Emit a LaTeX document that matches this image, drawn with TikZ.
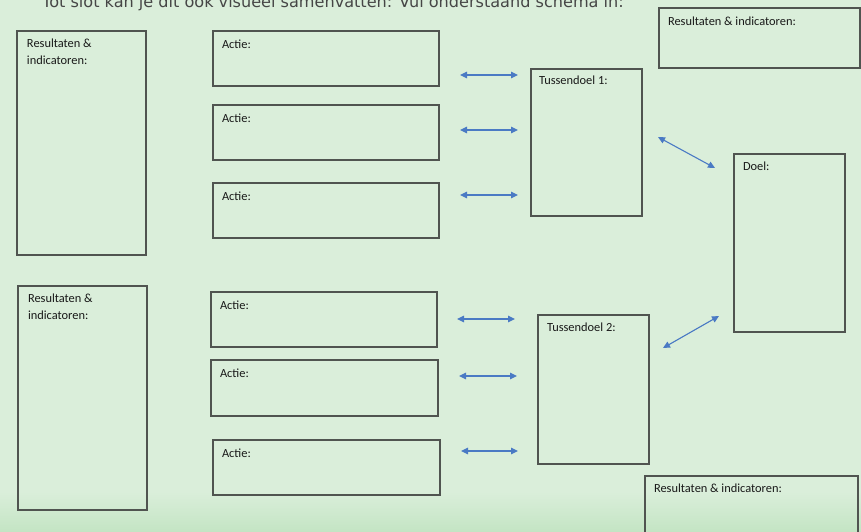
\documentclass[tikz,border=0pt]{standalone}
\usepackage{fontspec}
\setmainfont{Carlito}
\newfontfamily\titlefont{DejaVu Sans}
\usetikzlibrary{arrows.meta}
\definecolor{bggreen}{RGB}{218,238,218}
\definecolor{bgdark}{RGB}{196,229,196}
\definecolor{boxline}{RGB}{80,84,80}
\definecolor{arrblue}{RGB}{74,122,196}
\definecolor{titlegray}{RGB}{70,70,70}
\tikzset{
  box/.style={draw=boxline, line width=1.1pt, inner sep=0pt, outer sep=0pt, anchor=north west},
  txt/.style={inner sep=0pt, outer sep=0pt, anchor=base west, font=\fontsize{12.4}{17}\selectfont, text=black!90},
  arr/.style={draw=arrblue, line width=1.1pt, {Triangle[length=7pt,width=6.5pt]}-{Triangle[length=7pt,width=6.5pt]}}
}
\begin{document}
\begin{tikzpicture}[x=1pt,y=-1pt]
\useasboundingbox (0,0) rectangle (861,531);
\clip (0,0) rectangle (861,531);
% background
\fill[bggreen] (0,0) rectangle (861,531);
\shade[top color=bggreen, bottom color=bgdark] (0,492) rectangle (861,531);
% title
\node[inner sep=0pt, anchor=base west, font=\titlefont\fontsize{16.1}{19}\selectfont, text=titlegray] (title) at (42,7.5) {Tot slot kan je dit ook visueel samenvatten: Vul onderstaand schema in:};
% left result boxes
\node[box, minimum width=129pt, minimum height=224pt] (R1) at (17,31) {};
\node[txt, align=left, anchor=north west] (R1t) at ([shift={(10,8.3)}]R1.north west) {Resultaten \&\\indicatoren:};
\node[box, minimum width=129pt, minimum height=224pt] (R2) at (18,286) {};
\node[txt, align=left, anchor=north west] (R2t) at ([shift={(10,8.3)}]R2.north west) {Resultaten \&\\indicatoren:};
% action boxes
\node[box, minimum width=226pt, minimum height=55pt] (A1) at (213,31) {};
\node[txt] (A1t) at ([shift={(9,17)}]A1.north west) {Actie:};
\node[box, minimum width=226pt, minimum height=55pt] (A2) at (213,105) {};
\node[txt] (A2t) at ([shift={(9,17)}]A2.north west) {Actie:};
\node[box, minimum width=226pt, minimum height=55pt] (A3) at (213,183) {};
\node[txt] (A3t) at ([shift={(9,17)}]A3.north west) {Actie:};
\node[box, minimum width=226pt, minimum height=55pt] (A4) at (211,292) {};
\node[txt] (A4t) at ([shift={(9,17)}]A4.north west) {Actie:};
\node[box, minimum width=227pt, minimum height=56pt] (A5) at (211,360) {};
\node[txt] (A5t) at ([shift={(9,17)}]A5.north west) {Actie:};
\node[box, minimum width=227pt, minimum height=55pt] (A6) at (213,440) {};
\node[txt] (A6t) at ([shift={(9,17)}]A6.north west) {Actie:};
% intermediate goals
\node[box, minimum width=111pt, minimum height=147pt] (T1) at (531,69) {};
\node[txt] (T1t) at ([shift={(8,15)}]T1.north west) {Tussendoel 1:};
\node[box, minimum width=111pt, minimum height=149pt] (T2) at (538,315) {};
\node[txt] (T2t) at ([shift={(9,16)}]T2.north west) {Tussendoel 2:};
% goal
\node[box, minimum width=111pt, minimum height=178pt] (D) at (734,154) {};
\node[txt] (Dt) at ([shift={(9,16)}]D.north west) {Doel:};
% right result boxes
\node[box, minimum width=201pt, minimum height=60pt] (RT) at (659,8) {};
\node[txt] (RTt) at ([shift={(9,17)}]RT.north west) {Resultaten \& indicatoren:};
\node[box, minimum width=213pt, minimum height=70pt] (RB) at (645,476) {};
\node[txt] (RBt) at ([shift={(9,16)}]RB.north west) {Resultaten \& indicatoren:};
% arrow end points
\coordinate (p1a) at (460,75);  \coordinate (p1b) at (518,75);
\coordinate (p2a) at (460,130); \coordinate (p2b) at (518,130);
\coordinate (p3a) at (460,195); \coordinate (p3b) at (518,195);
\coordinate (p4a) at (457,319); \coordinate (p4b) at (515,319);
\coordinate (p5a) at (459,376); \coordinate (p5b) at (517,376);
\coordinate (p6a) at (461,451); \coordinate (p6b) at (518,451);
\coordinate (p7a) at (658,137); \coordinate (p7b) at (715,168);
\coordinate (p8a) at (663,348); \coordinate (p8b) at (719,316);
\draw[arr] (p1a) -- (p1b);
\draw[arr] (p2a) -- (p2b);
\draw[arr] (p3a) -- (p3b);
\draw[arr] (p4a) -- (p4b);
\draw[arr] (p5a) -- (p5b);
\draw[arr] (p6a) -- (p6b);
\draw[arr] (p7a) -- (p7b);
\draw[arr] (p8a) -- (p8b);
\end{tikzpicture}
\end{document}
